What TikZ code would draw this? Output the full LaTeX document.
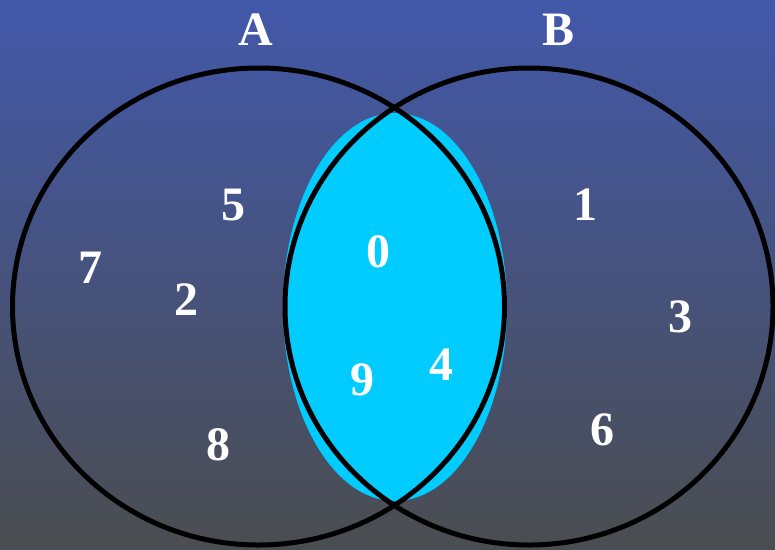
\documentclass[tikz,border=0pt]{standalone}
\usepackage{fontspec}
\setmainfont{Liberation Serif}
\usetikzlibrary{shapes.geometric}
\definecolor{bgtop}{RGB}{66,88,170}
\definecolor{bgmid}{RGB}{78,82,128}
\definecolor{bgbot}{RGB}{74,77,80}
\definecolor{lenscyan}{RGB}{0,204,255}
\begin{document}
\begin{tikzpicture}[x=1pt,y=-1pt,
  lbl/.style={text=white,font=\fontsize{48}{48}\selectfont\bfseries,inner sep=0pt},
  setring/.style={ellipse,draw=black,line width=5pt,inner sep=0pt},
  lensfill/.style={ellipse,fill=lenscyan,inner sep=0pt}]
\shade[top color=bgtop,middle color=bgmid,bottom color=bgbot] (0,0) rectangle (775,549);
\useasboundingbox (0,0) rectangle (775,549);
\node[lensfill,minimum width=224pt,minimum height=388pt] (lens) at (395,307) {};
\node[setring,minimum width=492pt,minimum height=477pt] (setA) at (258.5,306.5) {};
\node[setring,minimum width=488pt,minimum height=477pt] (setB) at (529,306.5) {};
\node[lbl] (labA) at (256,30) {A};
\node[lbl] (labB) at (558,30) {B};
\node[lbl] (n5) at (233,205) {5};
\node[lbl] (n7) at (90,268) {7};
\node[lbl] (n2) at (186,300) {2};
\node[lbl] (n8) at (218,445) {8};
\node[lbl] (n0) at (378,252) {0};
\node[lbl] (n9) at (362,380) {9};
\node[lbl] (n4) at (441,365) {4};
\node[lbl] (n1) at (585,205) {1};
\node[lbl] (n3) at (680,317) {3};
\node[lbl] (n6) at (602,430) {6};
\end{tikzpicture}
\end{document}
